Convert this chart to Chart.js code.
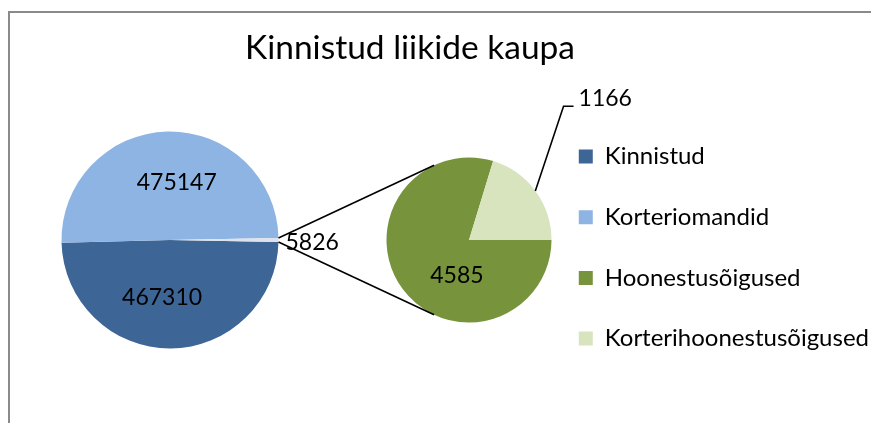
<!DOCTYPE html>
<html><head><meta charset="utf-8">
<script src="https://cdn.jsdelivr.net/npm/chart.js@4.4.1/dist/chart.umd.min.js"></script>
<style>
html,body{margin:0;padding:0;background:#fff;}
#wrap{position:relative;width:871px;height:423px;overflow:hidden;background:#fff;}
#frameBorder{position:absolute;left:8px;top:11px;right:-10px;bottom:-10px;border-left:2px solid #8a8a8a;border-top:2px solid #8a8a8a;}
canvas{position:absolute;}
#cMain{left:0;top:60px;}
#cSub{left:369px;top:60px;}
#cFrame{left:0;top:0;z-index:2;}
</style></head>
<body><div id="wrap"><div id="frameBorder"></div>
<canvas id="cMain" width="340" height="360"></canvas>
<canvas id="cSub" width="200" height="360"></canvas>
<canvas id="cFrame" width="871" height="423"></canvas>
</div>
<script>
// ---- data ----
const chartTitle = 'Kinnistud liikide kaupa';
const mainCategories = ['Kinnistud', 'Korteriomandid', 'Muud'];
const mainValues = [467310, 475147, 5826];
const subCategories = ['Hoonestusõigused', 'Korterihoonestusõigused'];
const subValues = [4585, 1166];
const legendLabels = ['Kinnistud', 'Korteriomandid', 'Hoonestusõigused', 'Korterihoonestusõigused'];

// ---- styles ----
const mainColors = ['#3D6697', '#8EB4E3', '#DCE3EC'];
const subColors = ['#77933C', '#D7E4BD'];
const legendColors = [mainColors[0], mainColors[1], subColors[0], subColors[1]];
const FONT = 'Lato';

const mainTotal = mainValues.reduce((a, b) => a + b, 0);
const otherIndex = mainValues.length - 1;
const otherDeg = mainValues[otherIndex] / mainTotal * 360;

const mainChart = new Chart(document.getElementById('cMain'), {
  type: 'pie',
  data: { labels: mainCategories, datasets: [{ data: mainValues, backgroundColor: mainColors, borderWidth: 0, radius: 108.5 }] },
  options: { responsive: false, animation: false, events: [], rotation: 90 + otherDeg / 2,
    layout: { padding: 0 }, plugins: { legend: { display: false }, tooltip: { enabled: false }, title: { display: false } } }
});

const subChart = new Chart(document.getElementById('cSub'), {
  type: 'pie',
  data: { labels: subCategories, datasets: [{ data: subValues, backgroundColor: subColors, borderWidth: 0, radius: 82.5 }] },
  options: { responsive: false, animation: false, events: [], rotation: 90,
    layout: { padding: 0 }, plugins: { legend: { display: false }, tooltip: { enabled: false }, title: { display: false } } }
});

const overlayPlugin = {
  id: 'pieOverlay',
  afterDraw(chart, args, opts) {
    const ctx = chart.ctx;
    const cm = mainChart.canvas, cs = subChart.canvas;
    const mArcs = mainChart.getDatasetMeta(0).data;
    const sArcs = subChart.getDatasetMeta(0).data;
    const mc = { x: mArcs[0].x + cm.offsetLeft, y: mArcs[0].y + cm.offsetTop };
    const R = mArcs[0].outerRadius;
    const sc = { x: sArcs[0].x + cs.offsetLeft, y: sArcs[0].y + cs.offsetTop };
    const r = sArcs[0].outerRadius;
    ctx.save();
    ctx.strokeStyle = '#000';
    ctx.lineWidth = 1.6;
    // connector lines: from edges of the "other" slice, tangent to the secondary pie
    const o = mArcs[otherIndex];
    const pts = [o.startAngle, o.endAngle].map(a => ({ x: mc.x + R * Math.cos(a), y: mc.y + R * Math.sin(a) }));
    pts.forEach((p, k) => {
      const d = Math.hypot(p.x - sc.x, p.y - sc.y);
      const th = Math.atan2(p.y - sc.y, p.x - sc.x);
      const al = Math.acos(r / d);
      const t = k === 0 ? th + al : th - al;
      ctx.beginPath();
      ctx.moveTo(p.x, p.y);
      ctx.lineTo(sc.x + r * Math.cos(t), sc.y + r * Math.sin(t));
      ctx.stroke();
    });
    ctx.fillStyle = '#000';
    ctx.font = '23px ' + FONT;
    ctx.textBaseline = 'middle';
    // main pie labels
    ctx.textAlign = 'center';
    mArcs.forEach((a, i) => {
      if (i === otherIndex) return;
      const m = (a.startAngle + a.endAngle) / 2 + opts.mainShift * Math.PI / 180;
      ctx.fillText(String(mainValues[i]), mc.x + opts.mainFrac * R * Math.cos(m), mc.y + opts.mainFrac * R * Math.sin(m));
    });
    ctx.textAlign = 'left';
    ctx.fillText(String(mainValues[otherIndex]), mc.x + R + 7, mc.y + 2.5);
    // secondary pie labels
    ctx.textAlign = 'center';
    const a0 = sArcs[0];
    const m0 = (a0.startAngle + a0.endAngle) / 2 + opts.subShift * Math.PI / 180;
    ctx.fillText(String(subValues[0]), sc.x + opts.subFrac * r * Math.cos(m0), sc.y + opts.subFrac * r * Math.sin(m0));
    const a1 = sArcs[1];
    const m1 = (a1.startAngle + a1.endAngle) / 2;
    const p0 = { x: sc.x + r * Math.cos(m1), y: sc.y + r * Math.sin(m1) };
    const p1 = { x: sc.x + 1.146 * r, y: sc.y - 1.622 * r };
    const p2 = { x: p1.x + 10, y: p1.y };
    ctx.beginPath();
    ctx.moveTo(p0.x, p0.y); ctx.lineTo(p1.x, p1.y); ctx.lineTo(p2.x, p2.y);
    ctx.stroke();
    ctx.textAlign = 'left';
    ctx.fillText(String(subValues[1]), p2.x + 5, p1.y - 7.5);
    ctx.restore();
  }
};

const frameChart = new Chart(document.getElementById('cFrame'), {
  type: 'pie',
  data: { labels: legendLabels, datasets: [] },
  options: {
    responsive: false, animation: false, events: [],
    layout: { padding: { left: -59, right: -8, top: 0, bottom: 0 } },
    plugins: {
      title: { display: true, text: chartTitle, color: '#000', font: { family: FONT, size: 33.5, weight: 'normal', lineHeight: 1.2 }, padding: { top: 27.9, bottom: 39.7 } },
      legend: { display: true, position: 'right', align: 'start', fullSize: false,
        labels: { color: '#000', font: { family: FONT, size: 24 }, boxWidth: 14, boxHeight: 14, padding: 36.7,
          generateLabels: () => legendLabels.map((t, i) => ({ text: t, fillStyle: legendColors[i], strokeStyle: legendColors[i], lineWidth: 0, hidden: false, index: i })) } },
      tooltip: { enabled: false },
      pieOverlay: { mainShift: 8, mainFrac: 0.535, subShift: -34.5, subFrac: 0.45 }
    }
  },
  plugins: [overlayPlugin]
});
</script>
</body></html>
